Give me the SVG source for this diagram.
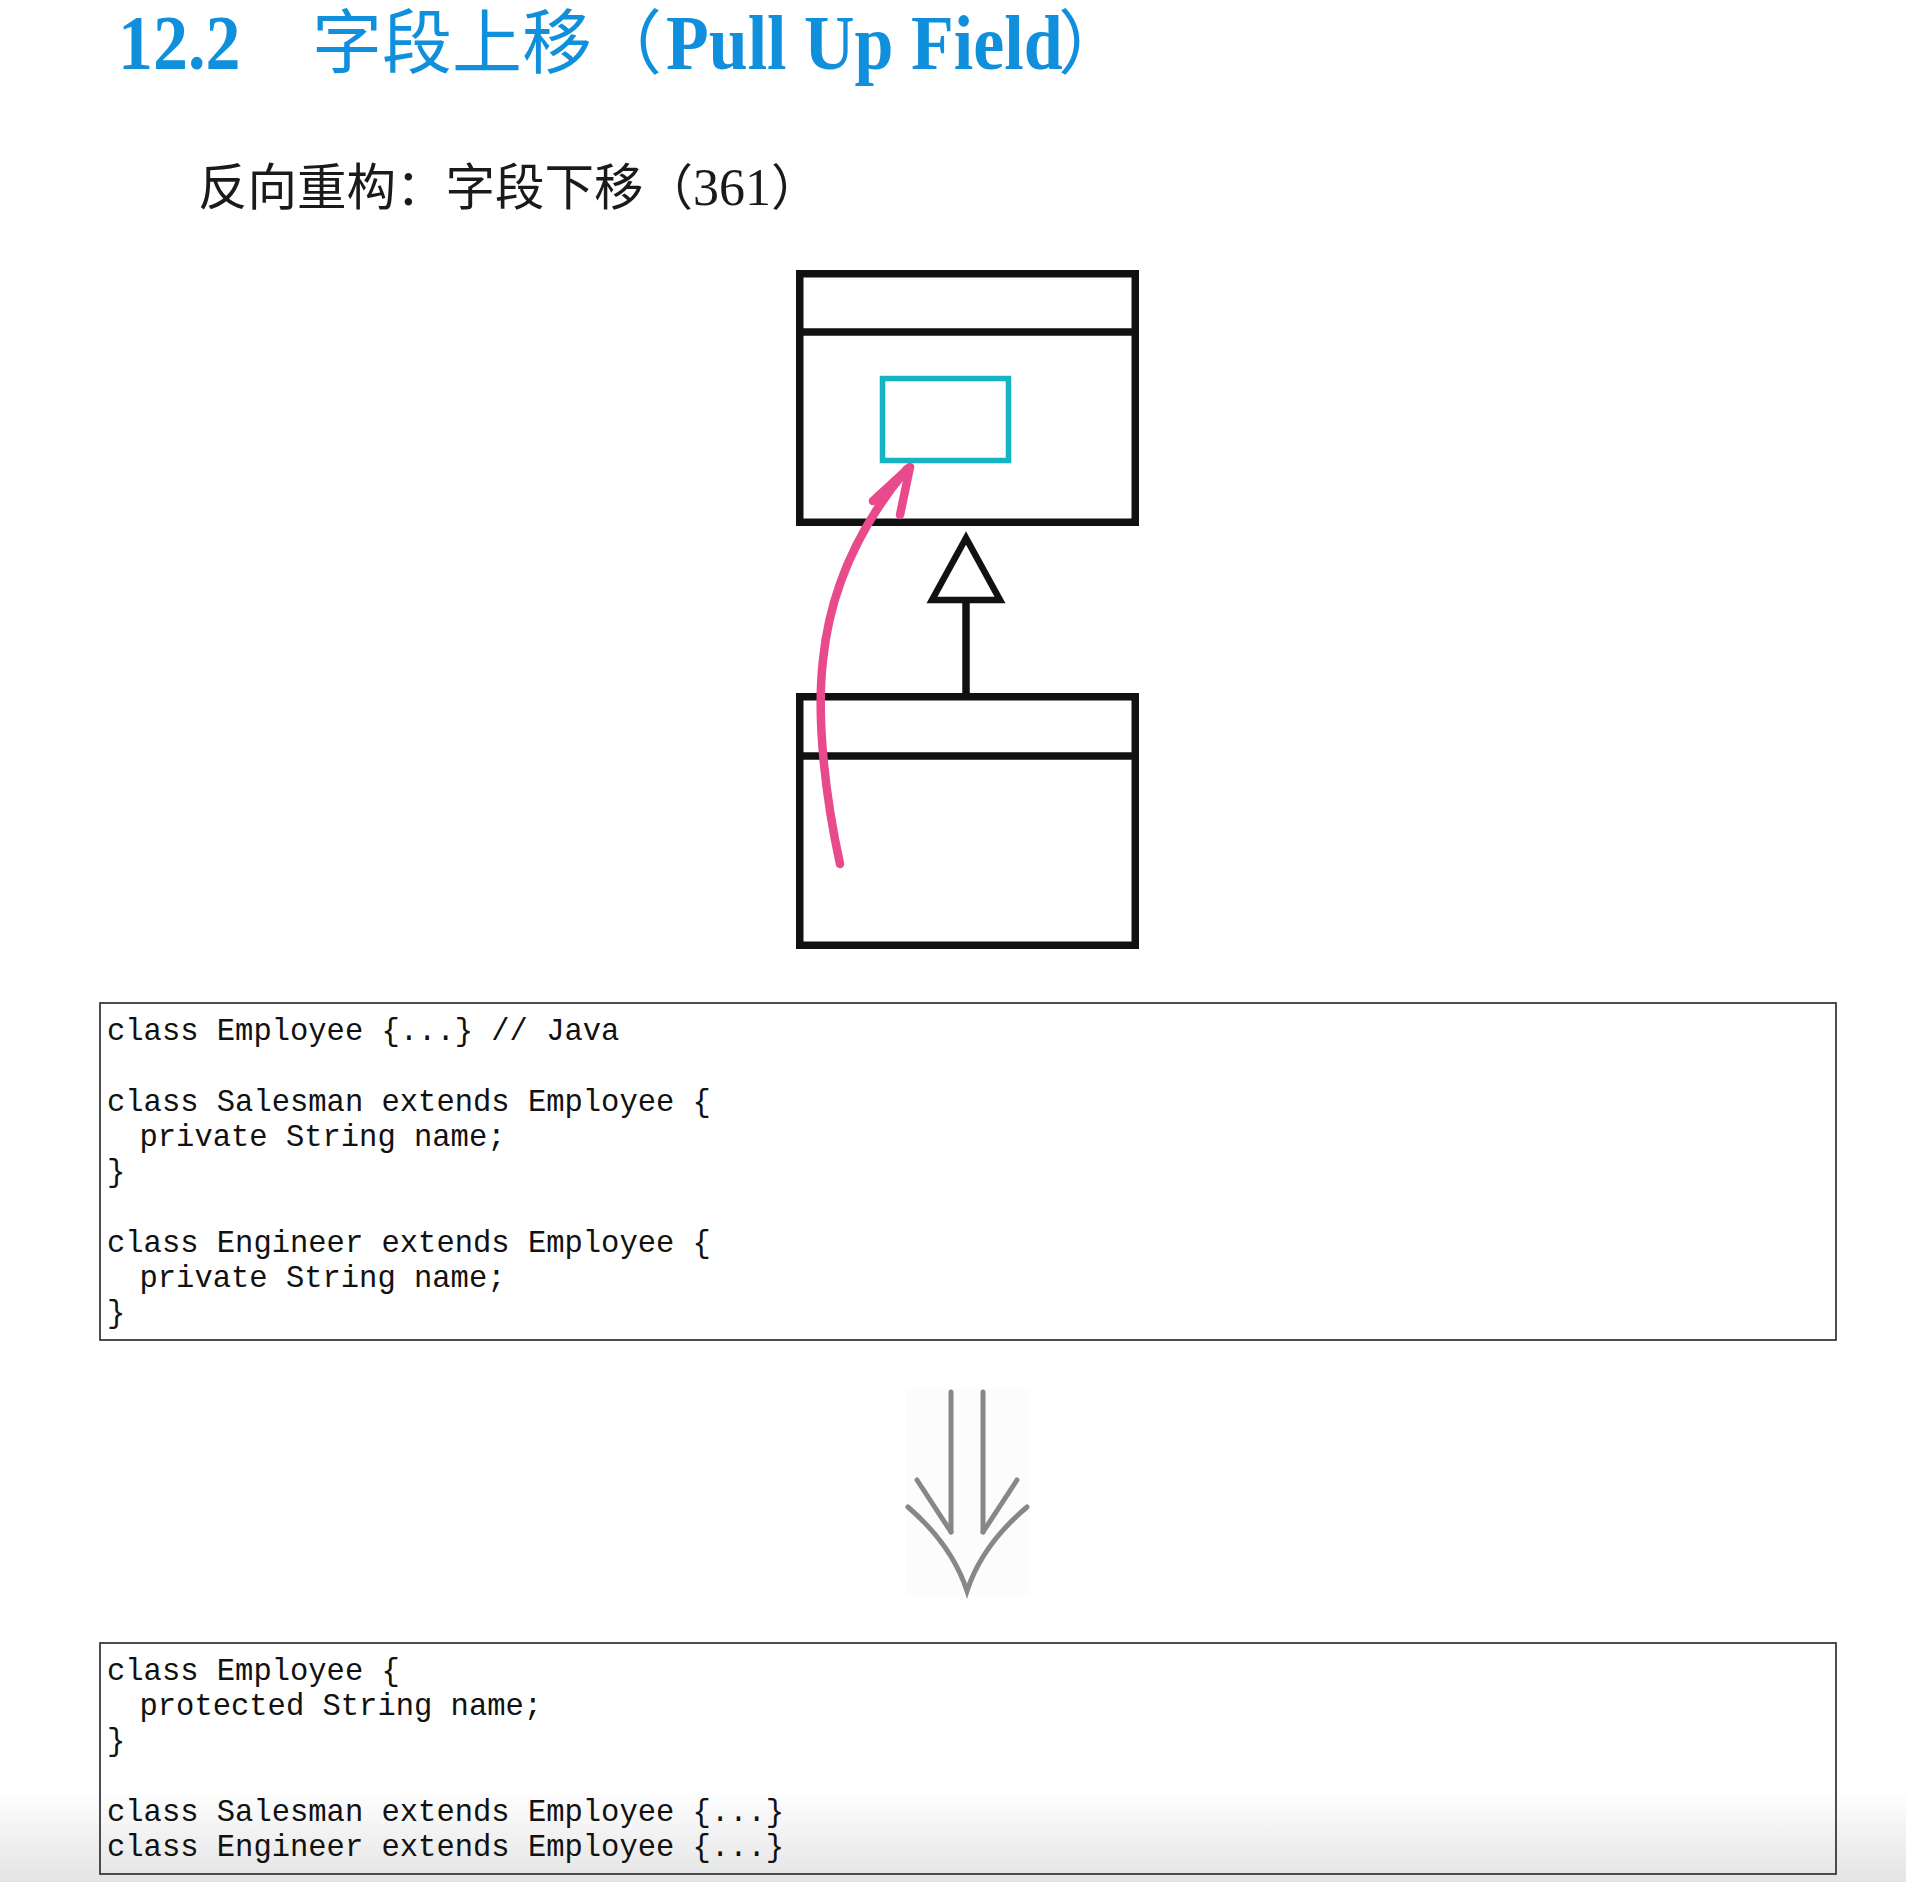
<svg xmlns="http://www.w3.org/2000/svg" width="1906" height="1882" viewBox="0 0 1906 1882">
<defs>
<style>
.ttl-lat{font-family:"Liberation Serif","Times New Roman",serif;font-weight:bold;fill:#1090dc}
.ttl-cjk{font-family:"Noto Sans CJK SC","Noto Sans",sans-serif;fill:#1090dc}
.sub{font-family:"Noto Sans CJK SC","Noto Sans",sans-serif;fill:#1a1a1a;font-size:49.5px}
.code{font-family:"Liberation Mono","Courier New",monospace;font-size:30.5px;fill:#111}
.uml{fill:none;stroke:#111;stroke-width:7.5}
.codebox{fill:none;stroke:#3a3a3a;stroke-width:1.8}
.gray{fill:none;stroke:#878787;stroke-width:5;stroke-linecap:round}
.pink{fill:none;stroke:#e84a8c;stroke-width:8.5;stroke-linecap:round;stroke-linejoin:round}
</style>
<linearGradient id="fade" x1="0" y1="0" x2="0" y2="1">
<stop offset="0" stop-color="#ffffff"/>
<stop offset="1" stop-color="#e4e4e4"/>
</linearGradient>
</defs>
<rect x="0" y="0" width="1906" height="1882" fill="#ffffff"/>
<rect x="0" y="1790" width="1906" height="92" fill="url(#fade)"/>

<g id="title">
<text class="ttl-lat" font-size="70" transform="translate(118,69) scale(1,1.12)">12.2</text>
<text class="ttl-cjk" font-size="70" x="312" y="68">字段上移（</text>
<text class="ttl-lat" font-size="70" transform="translate(666,69) scale(1,1.12)">Pull Up Field</text>
<text class="ttl-cjk" font-size="70" x="1058" y="68">）</text>
</g>

<g id="subtitle">
<text class="sub" x="198" y="205">反向重构：字段下移（<tspan font-family="Liberation Serif, serif" font-size="52">361</tspan>）</text>
</g>

<g id="superclass">
<rect class="uml" x="799.75" y="273.75" width="335.5" height="248.5"/>
<line class="uml" x1="799.75" y1="332" x2="1135.25" y2="332"/>
<rect x="882.5" y="378.5" width="126" height="82" fill="none" stroke="#14b4c4" stroke-width="5.5"/>
</g>

<g id="subclass">
<rect class="uml" x="799.75" y="696.75" width="335.5" height="248.5"/>
<line class="uml" x1="799.75" y1="756" x2="1135.25" y2="756"/>
</g>

<g id="connectors">
<line class="uml" x1="966" y1="600" x2="966" y2="696"/>
<polygon points="966,538 932,600 1000,600" fill="#fff" stroke="#111" stroke-width="6.5" stroke-linejoin="miter"/>
<path class="pink" d="M840,864 C826,800 816,720 823,660 C830,590 860,525 907,469"/>
<polyline class="pink" points="873,501 910,467 900,515"/>
</g>

<g id="code-before">
<rect class="codebox" x="100" y="1003" width="1736" height="337"/>
<text class="code" transform="translate(107,1040) scale(1,1.05)">class Employee {...} // Java</text>
<text class="code" transform="translate(107,1111) scale(1,1.05)">class Salesman extends Employee {</text>
<text class="code" transform="translate(139.5,1146) scale(1,1.05)">private String name;</text>
<text class="code" transform="translate(107,1181) scale(1,1.05)">}</text>
<text class="code" transform="translate(107,1252) scale(1,1.05)">class Engineer extends Employee {</text>
<text class="code" transform="translate(139.5,1287) scale(1,1.05)">private String name;</text>
<text class="code" transform="translate(107,1322) scale(1,1.05)">}</text>
</g>

<g id="refactor-arrow">
<rect x="907" y="1389" width="121" height="206" fill="#fcfcfc"/>
<line class="gray" x1="951" y1="1392" x2="951" y2="1532"/>
<line class="gray" x1="983" y1="1392" x2="983" y2="1532"/>
<line class="gray" x1="917" y1="1480" x2="951" y2="1532"/>
<line class="gray" x1="1017" y1="1480" x2="983" y2="1532"/>
<path class="gray" d="M908,1507 Q952,1545 967,1591 Q982,1545 1027,1507"/>
</g>

<g id="code-after">
<rect class="codebox" x="100" y="1643" width="1736" height="231"/>
<text class="code" transform="translate(107,1680) scale(1,1.05)">class Employee {</text>
<text class="code" transform="translate(139.5,1715) scale(1,1.05)">protected String name;</text>
<text class="code" transform="translate(107,1750) scale(1,1.05)">}</text>
<text class="code" transform="translate(107,1821) scale(1,1.05)">class Salesman extends Employee {...}</text>
<text class="code" transform="translate(107,1856) scale(1,1.05)">class Engineer extends Employee {...}</text>
</g>
</svg>
